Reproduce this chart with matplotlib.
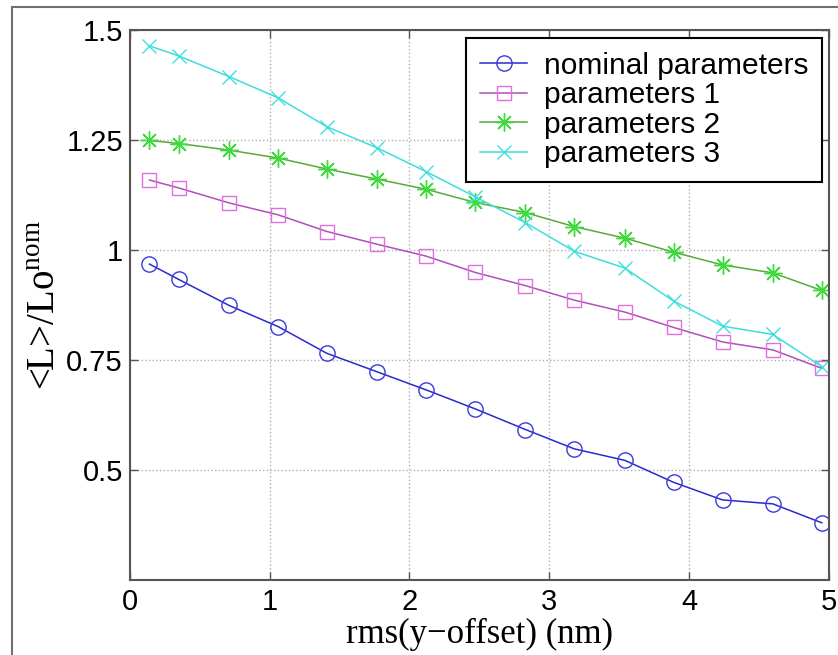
import matplotlib
matplotlib.use("Agg")
import matplotlib.pyplot as plt
from matplotlib.patches import Rectangle

# rms of the y-offset (nm)
rms_offset = [0.14, 0.35, 0.71, 1.06, 1.41, 1.77, 2.12, 2.47, 2.83, 3.18, 3.54, 3.89, 4.24, 4.60, 4.95]

# normalised luminosity for each parameter set
lum_nominal = [0.968, 0.933, 0.874, 0.826, 0.765, 0.723, 0.682, 0.639,
               0.592, 0.548, 0.522, 0.472, 0.432, 0.423, 0.380]
lum_param1 = [1.159, 1.141, 1.107, 1.080, 1.042, 1.013, 0.986, 0.949,
              0.919, 0.886, 0.859, 0.824, 0.791, 0.773, 0.731]
lum_param2 = [1.249, 1.242, 1.227, 1.209, 1.184, 1.161, 1.138, 1.108,
              1.085, 1.053, 1.027, 0.995, 0.966, 0.948, 0.908]
lum_param3 = [1.464, 1.441, 1.394, 1.346, 1.280, 1.232, 1.178, 1.121,
              1.062, 0.997, 0.959, 0.884, 0.827, 0.808, 0.735]

labels = ['nominal parameters', 'parameters 1', 'parameters 2', 'parameters 3']
xticks = [0, 1, 2, 3, 4, 5]
yticks = [0.5, 0.75, 1, 1.25, 1.5]
ytick_labels = ['0.5', '0.75', '1', '1.25', '1.5']

plt.rcParams['font.family'] = ['Liberation Sans', 'DejaVu Sans']
plt.rcParams['mathtext.fontset'] = 'custom'
plt.rcParams['mathtext.rm'] = 'Liberation Serif'

fig = plt.figure(figsize=(8.38, 6.55), dpi=100)
ax = fig.add_axes([0.155, 0.1145, 0.834, 0.8397])

# thin grey frame around the figure
fig.patches.append(Rectangle((12 / 838, -0.1), 1.2, 1.1 - 7 / 655, transform=fig.transFigure,
                             fill=False, edgecolor='#707070', linewidth=1.5))

# asterisk marker with 8 spokes
asterisk = (8, 2, 0)

styles = [
    (lum_nominal, 'o', '#2a2ad0', '#3a3ad8', 11),
    (lum_param1, 's', '#b050b8', '#e070e0', 10),
    (lum_param2, asterisk, '#5aa838', '#3cdc3c', 13),
    (lum_param3, 'x', '#40dcdc', '#40e0e0', 10),
]
for (vals, mk, lc, mc, ms), lab in zip(styles, labels):
    ax.plot(rms_offset, vals, color=lc, linewidth=1.1, marker=mk, markersize=ms,
            markerfacecolor='none', markeredgecolor=mc, markeredgewidth=1.0, label=lab)

ax.set_xlim(0, 5)
ax.set_ylim(0.25, 1.5)
ax.set_xticks(xticks)
ax.set_yticks(yticks)
ax.set_yticklabels(ytick_labels)
ax.tick_params(direction='in', length=6, width=1, top=True, right=True,
               labelsize=21, colors='#555555', labelcolor='black')
ax.tick_params(axis='x', pad=6)
ax.tick_params(axis='y', pad=5)
ax.grid(True, linestyle=':', color='#b0b0b0', linewidth=1)
for s in ax.spines.values():
    s.set_color('#555555')
    s.set_linewidth(1.5)

ax.set_xlabel('rms(y\u2212offset) (nm)', fontfamily='Liberation Serif', fontsize=25, labelpad=1)
ax.set_ylabel('<L>/Lo$^{\\rm nom}$', fontfamily='Liberation Serif', fontsize=28, labelpad=2)

leg = ax.legend(loc='upper right', bbox_to_anchor=(0.99, 0.985), borderaxespad=0,
                fontsize=21.5, fancybox=False, edgecolor='black', framealpha=1,
                handlelength=1.6, handletextpad=0.55, borderpad=0.45, labelspacing=0.05)
leg.get_frame().set_linewidth(1.5)

fig.savefig('out.png', dpi=100)
